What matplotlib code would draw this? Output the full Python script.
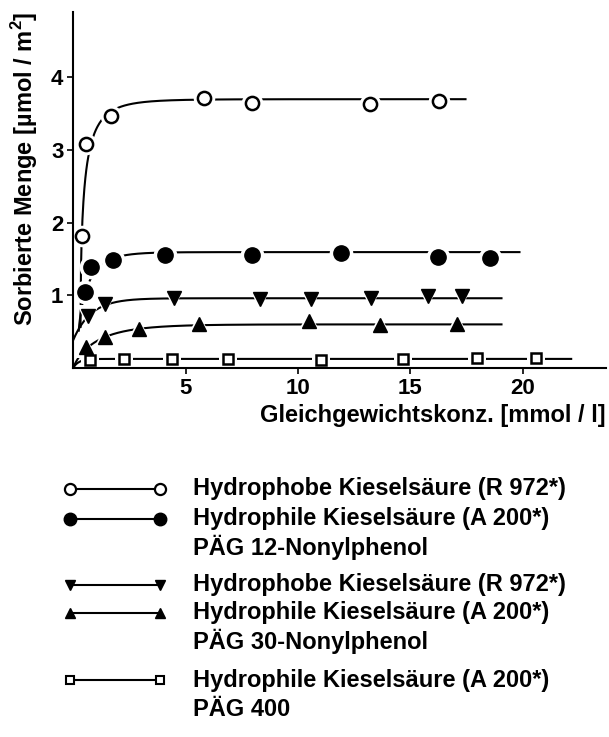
import numpy as np
import matplotlib
matplotlib.use("Agg")
from matplotlib import pyplot as plt

plt.rcParams['font.family'] = ['Liberation Sans', 'DejaVu Sans']
plt.rcParams['font.weight'] = 'bold'
plt.rcParams['mathtext.fontset'] = 'custom'
plt.rcParams['mathtext.bf'] = 'Liberation Sans:bold'
plt.rcParams['mathtext.rm'] = 'Liberation Sans:bold'

# measured points
x_r972_12 = [0.40, 0.56, 1.68, 5.82, 7.96, 13.19, 16.29]
y_r972_12 = [1.82, 3.08, 3.47, 3.71, 3.65, 3.64, 3.68]

x_a200_12 = [0.55, 0.80, 1.76, 4.08, 7.96, 11.90, 16.25, 18.55]
y_a200_12 = [1.04, 1.39, 1.48, 1.55, 1.56, 1.58, 1.53, 1.52]

x_r972_30 = [0.66, 1.40, 4.51, 8.31, 10.56, 13.25, 15.80, 17.30]
y_r972_30 = [0.71, 0.88, 0.96, 0.95, 0.95, 0.96, 0.99, 0.99]

x_a200_30 = [0.56, 1.42, 2.93, 5.60, 10.50, 13.66, 17.08]
y_a200_30 = [0.29, 0.42, 0.54, 0.60, 0.64, 0.59, 0.60]

x_a200_400 = [0.74, 2.26, 4.38, 6.89, 11.02, 14.66, 17.95, 20.60]
y_a200_400 = [0.11, 0.12, 0.13, 0.13, 0.11, 0.13, 0.14, 0.14]

# fitted saturation curves: x0, y0, plateau, k, n, end of line
fit_r972_12 = (0.33, 0.55, 3.70, 5.2, 0.55, 17.5)
fit_a200_12 = (0.25, 0.50, 1.595, 2.1, 0.80, 19.9)
fit_r972_30 = (0.0, 0.38, 0.96, 1.26, 1.0, 19.1)
fit_a200_30 = (0.04, 0.02, 0.60, 0.90, 0.85, 19.1)
fit_a200_400 = (0.0, 0.0, 0.125, 4.0, 1.0, 22.2)


def sat(fit):
    x0, y0, a, k, n, xend = fit
    x = np.linspace(x0, xend, 800)
    y = y0 + (a - y0) * (1 - np.exp(-(k * (x - x0)) ** n))
    return x, y


series = [
    (x_r972_12, y_r972_12, fit_r972_12, dict(marker='o', ms=9.5, mfc='white', mew=1.8)),
    (x_a200_12, y_a200_12, fit_a200_12, dict(marker='o', ms=11, mfc='black', mew=1.0)),
    (x_r972_30, y_r972_30, fit_r972_30, dict(marker='v', ms=10, mfc='black', mew=1.0)),
    (x_a200_30, y_a200_30, fit_a200_30, dict(marker='^', ms=10, mfc='black', mew=1.0)),
    (x_a200_400, y_a200_400, fit_a200_400, dict(marker='s', ms=7, mfc='white', mew=1.8)),
]

fig = plt.figure(figsize=(6.09, 7.37), dpi=100)
ax = fig.add_axes([0.12, 0.5007, 0.875, 0.483])

for xs, ys, fit, st in series:
    cx, cy = sat(fit)
    ax.plot(cx, cy, color='black', lw=1.5, zorder=1, solid_capstyle='butt')
    # white halo so the line stops short of each marker
    ax.plot(xs, ys, ls='none', marker=st['marker'], ms=st['ms'] + 6,
            mfc='white', mec='white', mew=0, zorder=2)
    ax.plot(xs, ys, ls='none', marker=st['marker'], ms=st['ms'],
            mfc=st['mfc'], mec='black', mew=st['mew'], zorder=3)

ax.set_xlim(0, 23.7)
ax.set_ylim(0, 4.9)
ax.set_xticks([5, 10, 15, 20])
ax.set_yticks([1, 2, 3, 4])
ax.spines['top'].set_visible(False)
ax.spines['right'].set_visible(False)
for s in ['left', 'bottom']:
    ax.spines[s].set_linewidth(1.5)
ax.tick_params(direction='out', length=4, width=1.2, labelsize=16, pad=3)
for lab in ax.get_xticklabels() + ax.get_yticklabels():
    lab.set_fontweight('bold')

ax.set_xlabel('Gleichgewichtskonz. [mmol / l]', fontsize=17, fontweight='bold',
              loc='right', labelpad=4)
ax.set_ylabel(r'Sorbierte Menge [µmol / m$^{\mathbf{2}}$]', fontsize=17,
              fontweight='bold', loc='top', labelpad=8)

# legend drawn by hand below the axes
leg_rows = [
    ('o', 'white', 8, 1.6, 489, 'Hydrophobe Kieselsäure (R 972*)'),
    ('o', 'black', 9, 1.0, 519, 'Hydrophile Kieselsäure (A 200*)'),
    (None, None, 0, 0, 547, 'PÄG 12-Nonylphenol'),
    ('v', 'black', 7.5, 1.0, 585, 'Hydrophobe Kieselsäure (R 972*)'),
    ('^', 'black', 7.5, 1.0, 613, 'Hydrophile Kieselsäure (A 200*)'),
    (None, None, 0, 0, 641, 'PÄG 30-Nonylphenol'),
    ('s', 'white', 5.5, 1.5, 680, 'Hydrophile Kieselsäure (A 200*)'),
    (None, None, 0, 0, 710, 'PÄG 400'),
]
W, H = 609.0, 737.0
for mk, fc, ms, mew, ypx, txt in leg_rows:
    yf = 1 - ypx / H
    if mk is not None:
        fig.add_artist(plt.Line2D([70 / W, 160 / W], [yf, yf], color='black', lw=1.5,
                                  marker=mk, ms=ms, mfc=fc, mec='black', mew=mew,
                                  transform=fig.transFigure))
    fig.text(193 / W, yf, txt, fontsize=17, fontweight='bold', va='center', ha='left')

fig.savefig('out.png', dpi=100)
plt.close()
